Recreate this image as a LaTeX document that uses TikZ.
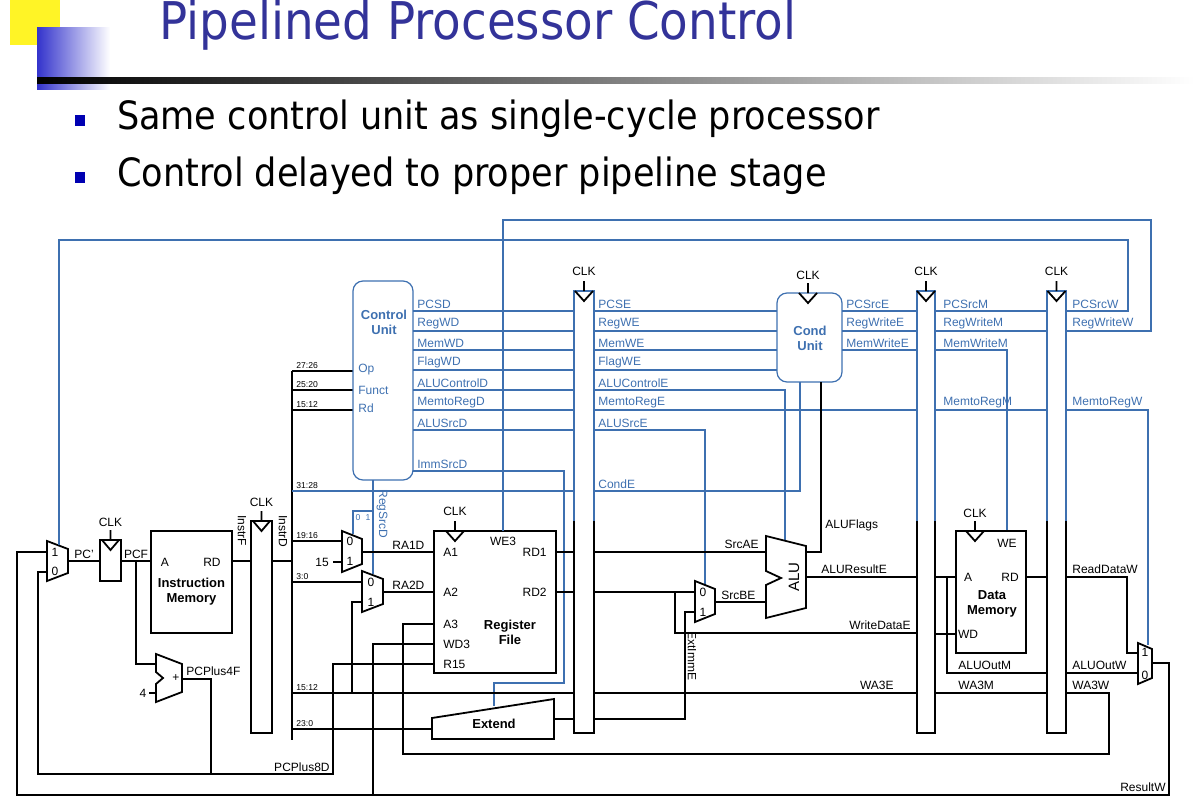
\documentclass[tikz,border=0pt]{standalone}
\usepackage{fontspec}
\setmainfont{Liberation Sans}
\newfontfamily\titlefont{DejaVu Sans Condensed}
\usetikzlibrary{positioning}
\definecolor{ctlblue}{RGB}{62,112,176}
\definecolor{titleblue}{RGB}{51,51,153}
\begin{document}
\begin{tikzpicture}[x=0.5pt,y=-0.5pt,
    wire/.style={line width=0.9pt},
    ctl/.style={draw=ctlblue,line width=0.6pt},
    lbl/.style={font=\fontsize{6}{7}\selectfont,inner sep=0.5pt},
    tiny/.style={font=\fontsize{4.3}{5}\selectfont,inner sep=0.5pt},
    clbl/.style={lbl,text=ctlblue,anchor=south west},
    box/.style={draw,line width=0.9pt,inner sep=0pt},
    bold/.style={font=\fontsize{6.5}{7.5}\selectfont\bfseries,align=center}]
  \useasboundingbox (0,0) rectangle (1195,797);
  % header
  \fill[yellow!85!white] (10,0) rectangle (60,45);
  \shade[left color=blue!75!black!80,right color=white] (37,28) rectangle (110,90);
  \shade[left color=black,right color=white] (37,78) rectangle (1195,84);
  \node[font=\titlefont\fontsize{26}{28}\selectfont,text=titleblue,anchor=base] (title) at (478,40) {Pipelined Processor Control};
  \fill[blue!70!black] (75,115) rectangle (85,126);
  \fill[blue!70!black] (75,172) rectangle (85,183);
  \node[font=\titlefont\fontsize{19.5}{22}\selectfont,anchor=west] (b1) at (110,119) {Same control unit as single-cycle processor};
  \node[font=\titlefont\fontsize{19.5}{22}\selectfont,anchor=west] (b2) at (110,176) {Control delayed to proper pipeline stage};

  % pipeline registers
  \foreach \n/\xa/\xb/\ya in {de/574/594/291, em/917/935/291, mw/1047/1066/291} {
    \draw[ctl] (\xa,521) -- (\xa,\ya) -- (\xb,\ya) -- (\xb,521);
    \draw[wire] (\xa,521) -- (\xa,733) -- (\xb,733) -- (\xb,521);
    \draw[wire] ({(\xa+\xb)/2-9},\ya) -- ({(\xa+\xb)/2},\ya+10) -- ({(\xa+\xb)/2+9},\ya) ({(\xa+\xb)/2},\ya) -- ({(\xa+\xb)/2},\ya-10);
    \node[lbl] (clk\n) at ({(\xa+\xb)/2},\ya-20) {CLK};
  }
  \draw[wire] (251,521) rectangle (272,733);
  \draw[wire] (253,521) -- (261.5,531) -- (270,521) (261.5,521) -- (261.5,511);
  \node[lbl] (clkfd) at (261.5,502) {CLK};

  % fetch
  \draw[wire] (47,541) -- (68,549) -- (68,573) -- (47,581) -- cycle;
  \node[lbl] (pcm1) at (55,552) {1};
  \node[lbl] (pcm0) at (55,571) {0};
  \draw[wire] (100,540) rectangle (121,581);
  \draw[wire] (102,540) -- (110.5,550) -- (119,540) (110.5,540) -- (110.5,530);
  \node[lbl] (clkpc) at (110.5,522) {CLK};
  \node[box,minimum width=40.5pt,minimum height=51pt] (imem) at (191.5,582) {};
  \node[bold] at (191.5,592) {Instruction\\Memory};
  \node[lbl] at (165,562) {A};
  \node[lbl] at (212,562) {RD};
  \draw[wire] (68,561) -- (100,561) node[lbl,midway,above] {PC'};
  \draw[wire] (121,561) -- (151,561) node[lbl,midway,above] {PCF};
  \draw[wire] (232,561) -- (251,561);
  \draw[wire] (272,561) -- (292,561);
  \node[lbl,rotate=-90,anchor=west] at (242,514) {InstrF};
  \node[lbl,rotate=-90,anchor=west] at (283,514) {InstrD};
  \draw[wire] (156,654) -- (182,664) -- (182,692) -- (156,702) -- (156,684) -- (163,678) -- (156,672) -- cycle;
  \node[lbl] at (176,678) {+};
  \draw[wire] (136,561) -- (136,664) -- (156,664);
  \draw[wire] (149,693) -- (156,693);
  \node[lbl] at (143,693) {4};
  \draw[wire] (182,679) -- (211,679) -- (211,774);
  \node[lbl,anchor=south west] at (185,677) {PCPlus4F};

  % decode
  \draw[wire] (292,371) -- (292,740);
  \foreach \y/\t in {371/27:26, 390/25:20, 410/15:12} {
    \draw[wire] (292,\y) -- (353,\y);
    \node[tiny,anchor=south west] at (295,\y-1) {\t};
  }
  \node[tiny,anchor=south west] at (295,490) {31:28};
  \node[tiny,anchor=south west] at (295,540) {19:16};
  \node[tiny,anchor=south west] at (295,581) {3:0};
  \node[tiny,anchor=south west] at (295,692) {15:12};
  \node[tiny,anchor=south west] at (295,728) {23:0};
  \draw[ctl,rounded corners=5pt] (353,281) rectangle (413,480);
  \node[bold,text=ctlblue] (cu) at (384,322) {Control\\Unit};
  \node[lbl,text=ctlblue,anchor=west] at (357,370) {Op};
  \node[lbl,text=ctlblue,anchor=west] at (357,390) {Funct};
  \node[lbl,text=ctlblue,anchor=west] at (357,408) {Rd};
  \foreach \y/\d/\e in {311/PCSD/PCSE, 331/RegWD/RegWE, 350/MemWD/MemWE, 370/FlagWD/FlagWE,
      390/ALUControlD/ALUControlE, 410/MemtoRegD/MemtoRegE, 430/ALUSrcD/ALUSrcE} {
    \draw[ctl] (413,\y) -- (574,\y);
    \node[clbl] at (416,\y-1) {\d};
    \node[clbl] at (597,\y-1) {\e};
  }
  \draw[ctl] (594,311) -- (777,311) (594,331) -- (777,331) (594,350) -- (777,350) (594,370) -- (777,370);
  \draw[ctl] (594,390) -- (785,390) -- (785,541);
  \draw[ctl] (594,410) -- (917,410);
  \draw[ctl] (594,430) -- (705,430) -- (705,585);
  \draw[ctl] (413,471) -- (564,471) -- (564,683) -- (494,683) -- (494,706);
  \node[clbl] at (416,470) {ImmSrcD};
  \draw[ctl] (292,491) -- (574,491) (594,491) -- (800,491) -- (800,382);
  \node[clbl] at (597,490) {CondE};
  % RegSrcD
  \draw[ctl] (373,480) -- (373,574) (353,534) -- (353,511) -- (373,511);
  \node[tiny,text=ctlblue] at (358,518) {0};
  \node[tiny,text=ctlblue] at (368,518) {1};
  \node[lbl,text=ctlblue,rotate=-90,anchor=west] at (382,488) {RegSrcD};
  \draw[wire] (342,531) -- (362,539) -- (362,564) -- (342,572) -- cycle;
  \node[lbl] at (350,541) {0};
  \node[lbl] at (350,561) {1};
  \draw[wire] (362,571) -- (383,579) -- (383,604) -- (362,612) -- cycle;
  \node[lbl] at (371,582) {0};
  \node[lbl] at (371,602) {1};
  \draw[wire] (292,541) -- (342,541) (333,562) -- (342,562);
  \node[lbl] at (322,562) {15};
  \draw[wire] (292,582) -- (362,582) (352,693) -- (352,602) -- (362,602);
  \draw[wire] (362,552) -- (434,552) (383,592) -- (434,592);
  \node[lbl,anchor=south west] at (391,551) {RA1D};
  \node[lbl,anchor=south west] at (391,591) {RA2D};
  \node[box,minimum width=61pt,minimum height=71pt] (rf) at (495,602) {};
  \draw[wire] (446,531) -- (455,541) -- (464,531) (455,531) -- (455,521);
  \node[lbl] (clkrf) at (455,511) {CLK};
  \foreach \y/\t in {552/A1, 592/A2, 624/A3, 644/WD3, 664/R15} \node[lbl,anchor=west] at (442,\y) {\t};
  \node[lbl,anchor=east] at (548,552) {RD1};
  \node[lbl,anchor=east] at (548,592) {RD2};
  \node[lbl] at (503,541) {WE3};
  \node[bold] at (510,632) {Register\\File};
  \draw[wire] (432,718) -- (554,699) -- (554,739) -- (432,739) -- cycle;
  \node[bold] (ext) at (494,724) {Extend};
  \draw[wire] (292,729) -- (432,729) (554,719) -- (574,719);
  \draw[wire] (292,693) -- (574,693);
  \draw[wire] (556,552) -- (574,552) (556,592) -- (574,592);
  % writeback loops
  \draw[wire] (434,624) -- (403,624) -- (403,754) -- (1109,754) -- (1109,693) -- (1066,693);
  \draw[wire] (434,644) -- (373,644) -- (373,795);
  \draw[wire] (434,664) -- (333,664) -- (333,774) -- (38,774) -- (38,572) -- (47,572);
  \node[lbl,anchor=south east] at (331,773) {PCPlus8D};
  \draw[wire] (1152,663) -- (1169,663) -- (1169,795) -- (17,795) -- (17,552) -- (47,552);
  \node[lbl,anchor=south east] at (1167,793) {ResultW};
  \draw[ctl] (503,531) -- (503,220) -- (1151,220) -- (1151,331) -- (1066,331);
  \draw[ctl] (59,545) -- (59,240) -- (1128,240) -- (1128,311) -- (1066,311);

  % execute
  \draw[ctl,rounded corners=5pt] (777,293) rectangle (842,382);
  \node[bold,text=ctlblue] (cond) at (810,338) {Cond\\Unit};
  \draw[wire] (799,293) -- (808,303) -- (817,293) (808,293) -- (808,283);
  \node[lbl] (clkcond) at (808,275) {CLK};
  \foreach \y/\e/\m in {311/PCSrcE/PCSrcM, 331/RegWriteE/RegWriteM, 350/MemWriteE/MemWriteM} {
    \draw[ctl] (842,\y) -- (917,\y);
    \node[clbl] at (845,\y-1) {\e};
    \node[clbl] at (942,\y-1) {\m};
  }
  \draw[ctl] (935,311) -- (1047,311) (935,331) -- (1047,331) (935,350) -- (1007,350) -- (1007,531);
  \draw[ctl] (935,410) -- (1047,410) (1066,410) -- (1148,410) -- (1148,645);
  \node[clbl] at (942,409) {MemtoRegM};
  \node[clbl] at (1071,409) {MemtoRegW};
  \node[clbl] at (1071,310) {PCSrcW};
  \node[clbl] at (1071,330) {RegWriteW};
  \draw[wire] (766,536) -- (806,546) -- (806,608) -- (766,618) -- (766,585) -- (781,578) -- (766,571) -- cycle;
  \node[font=\fontsize{7.5}{8}\selectfont,rotate=90] (alu) at (794,577) {ALU};
  \draw[wire] (594,552) -- (766,552);
  \node[lbl,anchor=south east] at (760,550) {SrcAE};
  \draw[wire] (695,581) -- (715,589) -- (715,614) -- (695,622) -- cycle;
  \node[lbl] at (703,592) {0};
  \node[lbl] at (703,612) {1};
  \draw[wire] (594,592) -- (695,592) (675,592) -- (675,633) -- (917,633);
  \draw[wire] (594,719) -- (685,719) -- (685,612) -- (695,612);
  \node[lbl,rotate=-90,anchor=west] at (692,630) {ExtImmE};
  \draw[wire] (715,602) -- (766,602);
  \node[lbl,anchor=south west] at (720,601) {SrcBE};
  \draw[wire] (806,552) -- (821,552) -- (821,382);
  \node[lbl,anchor=south west] at (824,532) {ALUFlags};
  \draw[wire] (806,577) -- (917,577);
  \node[lbl,anchor=south west] at (820,575) {ALUResultE};
  \node[lbl,anchor=south east] at (912,631) {WriteDataE};
  \draw[wire] (594,693) -- (917,693);
  \node[lbl,anchor=south east] at (895,691) {WA3E};

  % memory and writeback
  \node[box,minimum width=35pt,minimum height=61pt] (dmem) at (991,592) {};
  \draw[wire] (966,531) -- (975,541) -- (984,531) (975,531) -- (975,521);
  \node[lbl] (clkdm) at (975,513) {CLK};
  \node[lbl] at (1007,543) {WE};
  \node[lbl] at (968,577) {A};
  \node[lbl] at (1010,577) {RD};
  \node[lbl] at (968,634) {WD};
  \node[bold] at (992,604) {Data\\Memory};
  \draw[wire] (935,577) -- (956,577) (947,577) -- (947,673) -- (1047,673);
  \draw[wire] (935,634) -- (956,634);
  \draw[wire] (1026,577) -- (1047,577) (935,693) -- (1047,693);
  \node[lbl,anchor=south west] at (957,671) {ALUOutM};
  \node[lbl,anchor=south west] at (957,691) {WA3M};
  \draw[wire] (1138,643) -- (1152,649) -- (1152,678) -- (1138,684) -- cycle;
  \node[lbl] at (1145,652) {1};
  \node[lbl] at (1145,675) {0};
  \draw[wire] (1066,577) -- (1127,577) -- (1127,653) -- (1138,653);
  \draw[wire] (1066,673) -- (1138,673);
  \node[lbl,anchor=south west] at (1071,575) {ReadDataW};
  \node[lbl,anchor=south west] at (1071,671) {ALUOutW};
  \node[lbl,anchor=south west] at (1071,691) {WA3W};
\end{tikzpicture}
\end{document}
